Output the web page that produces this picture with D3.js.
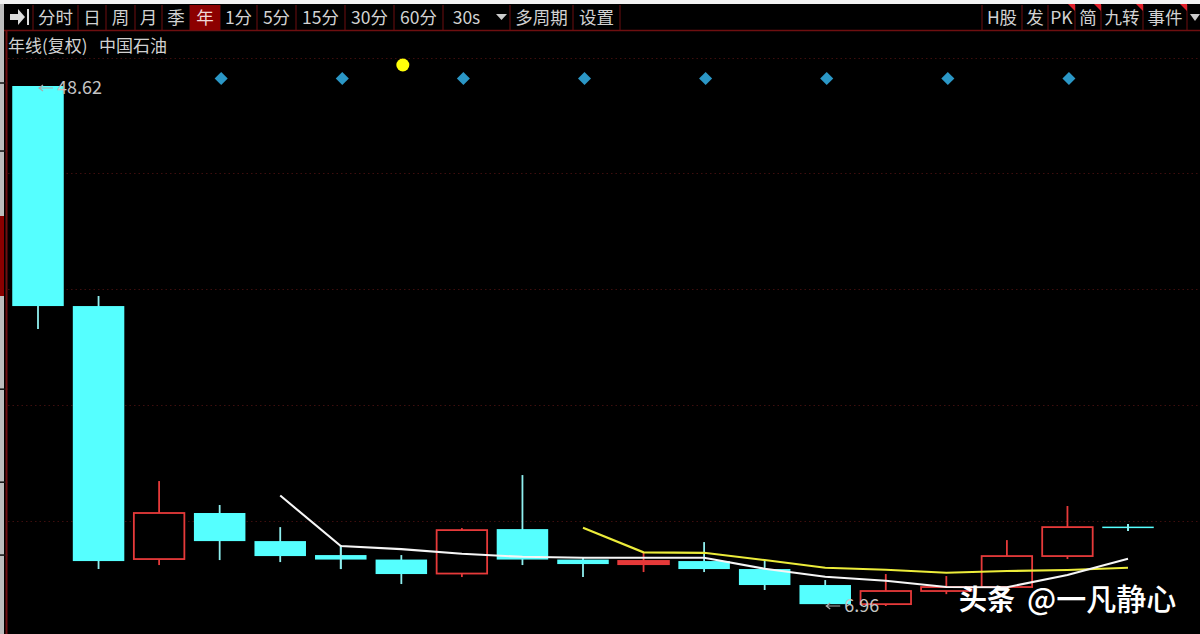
<!DOCTYPE html>
<html><head><meta charset="utf-8">
<style>html,body{margin:0;padding:0;background:#000;overflow:hidden}svg{display:block}text{font-family:"Noto Sans CJK SC","Noto Sans",sans-serif}</style>
<script src="https://cdn.jsdelivr.net/npm/d3@7"></script></head><body>
<svg id="c" width="1200" height="634"></svg>
<script>
const opens =[48.62,30.99,10.72,14.41,12.16,11.04,10.68,9.56,13.12,10.68,10.32,10.56,9.92,8.64,7.11,8.16,8.48,10.96,13.32];
const closes=[30.99,10.56,14.41,12.16,10.96,10.68,9.52,13.04,10.68,10.32,10.56,9.92,8.64,7.11,8.16,8.48,10.96,13.28,13.24];
const highs =[48.62,31.79,16.97,15.05,13.28,11.84,11.04,13.20,17.45,10.80,11.28,12.08,10.64,9.04,9.52,9.36,12.24,14.97,13.52];
const lows  =[29.15,9.92,10.24,10.64,10.48,9.92,8.72,9.28,10.24,9.28,9.68,9.68,8.24,7.11,6.96,7.91,8.48,10.72,12.96];
const maWhite=[null,null,null,null,15.81,11.76,11.52,11.14,10.90,10.82,10.82,10.82,9.94,9.30,8.98,8.48,8.46,9.44,10.74];
const maYellow=[null,null,null,null,null,null,null,null,null,13.23,11.26,11.22,10.64,10.02,9.86,9.62,9.76,9.84,10.02];
const signalIdx=[3,5,7,9,11,13,15,17];
const dotIdx=[6];
const gridValues=[50.86,41.65,32.35,23.06,13.76];
const axisTicks=[48.86,43.41,24.33,16.88,11.04];
const extremes=[{i:0,label:"48.62",v:48.62},{i:13,label:"6.96",v:6.96}];
const leftTabs=["分时","日","周","月","季","年","1分","5分","15分","30分","60分","30s","多周期","设置"];
const leftEdges=[33,78,106,135,162,190,220,257,296,345,394,443,510,573,620];
const rightTabs=["H股","发","PK","简","九转","事件"];
const rightEdges=[982,1022,1048,1075,1101,1143,1187];
const flagged=["PK","简","九转","事件"];

const svg=d3.select("#c");
const x=d3.scaleLinear().domain([0,18]).range([38,1128]);
const y=d3.scaleLinear().domain([6.96,48.62]).range([606,86]);
const CY="#55ffff",RD="#e63a3a",DR="#6e0f10",TXT="#d2d2d2";

svg.append("rect").attr("width",1200).attr("height",634).attr("fill","#000");
svg.append("rect").attr("width",1200).attr("height",4).attr("fill","#f2f2f2");
svg.append("rect").attr("y",4).attr("width",4).attr("height",630).attr("fill","#bdbdbd");
svg.append("rect").attr("y",216).attr("width",4).attr("height",80).attr("fill","#8a0000");
svg.selectAll(".tk").data(axisTicks).join("line").attr("x1",0).attr("x2",8)
  .attr("y1",d=>y(d)).attr("y2",d=>y(d)).attr("stroke","#111").attr("stroke-width",1.5);
svg.append("line").attr("x1",6.5).attr("x2",6.5).attr("y1",30).attr("y2",634).attr("stroke",DR).attr("stroke-width",2);
svg.append("line").attr("x1",4).attr("x2",1200).attr("y1",30.5).attr("y2",30.5).attr("stroke",DR).attr("stroke-width",1.5);

const tb=svg.append("g");
tb.append("path").attr("d","M10 14h8v-5l7 8-7 8v-5h-8z").attr("fill","#ddd");
tb.append("rect").attr("x",27).attr("y",9).attr("width",2).attr("height",16).attr("fill","#ddd");
function tabs(labels,edges){
  edges.forEach(e=>tb.append("line").attr("x1",e).attr("x2",e).attr("y1",5).attr("y2",30).attr("stroke",DR));
  labels.forEach((t,k)=>{
    const a=edges[k],b=edges[k+1];
    if(t==="年")tb.append("rect").attr("x",a).attr("y",5).attr("width",b-a).attr("height",25).attr("fill","#8c0000");
    tb.append("text").attr("x",t==="30s"?(a+b)/2-10:(a+b)/2).attr("y",24).attr("text-anchor","middle")
      .attr("font-size",17.5).attr("fill",t==="年"?"#f0d8d8":TXT).text(t);
    if(flagged.includes(t))tb.append("path").attr("d",`M${b-7} 4h7v7z`).attr("fill","#e0202a");
  });
}
tabs(leftTabs,leftEdges);tabs(rightTabs,rightEdges);
tb.append("path").attr("d","M496 14h11l-5.5 6z").attr("fill","#ccc");
tb.append("path").attr("d","M1190 14h10l-5 7z").attr("fill","#ccc");
svg.append("text").attr("x",8).attr("y",51.5).attr("font-size",17).attr("fill",TXT).text("年线(复权)");
svg.append("text").attr("x",99).attr("y",51.5).attr("font-size",17).attr("fill",TXT).text("中国石油");

svg.selectAll(".g").data(gridValues).join("line").attr("x1",8).attr("x2",1200)
  .attr("y1",d=>Math.round(y(d))+.5).attr("y2",d=>Math.round(y(d))+.5)
  .attr("stroke","#3e0e0e").attr("stroke-dasharray","1.5 3");

const W=51.5;
const data=opens.map((o,i)=>({i,o,c:closes[i],h:highs[i],l:lows[i]}));
const g=svg.selectAll(".cd").data(data).join("g");
g.append("line").attr("x1",d=>x(d.i)).attr("x2",d=>x(d.i)).attr("y1",d=>y(d.h)).attr("y2",d=>y(d.l))
  .attr("stroke",d=>d.c>=d.o?RD:"#8fefef").attr("stroke-width",1.8);
g.each(function(d){
  const s=d3.select(this),up=d.c>=d.o,t=y(Math.max(d.o,d.c)),b=y(Math.min(d.o,d.c));
  if(up)s.append("rect").attr("x",x(d.i)-W/2+.5).attr("y",t).attr("width",W-1).attr("height",Math.max(b-t,1))
    .attr("fill",b-t<3.5?RD:"#000").attr("stroke",RD).attr("stroke-width",b-t<3.5?2:1.8);
  else s.append("rect").attr("x",x(d.i)-W/2).attr("y",t).attr("width",W).attr("height",Math.max(b-t,1.5)).attr("fill",CY);
});
svg.selectAll(".xw").data(data.filter(d=>d.i===5||d.i===18)).join("line")
  .attr("x1",d=>x(d.i)).attr("x2",d=>x(d.i)).attr("y1",d=>y(d.h)).attr("y2",d=>y(d.l))
  .attr("stroke","#8fefef").attr("stroke-width",1.8);

const ln=d3.line().defined(d=>d!=null).x((d,i)=>x(i)).y(d=>y(d));
svg.append("path").attr("d",ln(maYellow)).attr("fill","none").attr("stroke","#ecec3a").attr("stroke-width",2.1);
svg.append("path").attr("d",ln(maWhite)).attr("fill","none").attr("stroke","#f6f6f6").attr("stroke-width",2.1);

svg.selectAll(".sg").data(signalIdx).join("path")
  .attr("d",d3.symbol(d3.symbolSquare,85)())
  .attr("transform",d=>`translate(${x(d)+1.5},78.5) rotate(45)`).attr("fill","#2b97c6");
svg.selectAll(".dt").data(dotIdx).join("circle").attr("cx",d=>x(d)+1.5).attr("cy",65).attr("r",6.5).attr("fill","#ffff0a");

extremes.forEach(e=>{
  const ax=x(e.i), ay=y(e.v)+(e.i===0?2:0);
  svg.append("path").attr("d",`M${ax+15} ${ay}H${ax+1}m4 -3l-4 3l4 3`).attr("fill","none").attr("stroke","#aaa").attr("stroke-width",1.2);
  svg.append("text").attr("x",ax+19).attr("y",ay+6).attr("font-size",18).attr("fill","#c4c4c4").text(e.label);
});

svg.append("text").attr("x",959).attr("y",610).attr("font-size",28).attr("font-weight",700).attr("fill","#fff").text("头条");
svg.append("text").attr("x",1027).attr("y",610).attr("font-size",30).attr("font-weight",500).attr("fill","#fff").text("@一凡静心");
</script></body></html>
